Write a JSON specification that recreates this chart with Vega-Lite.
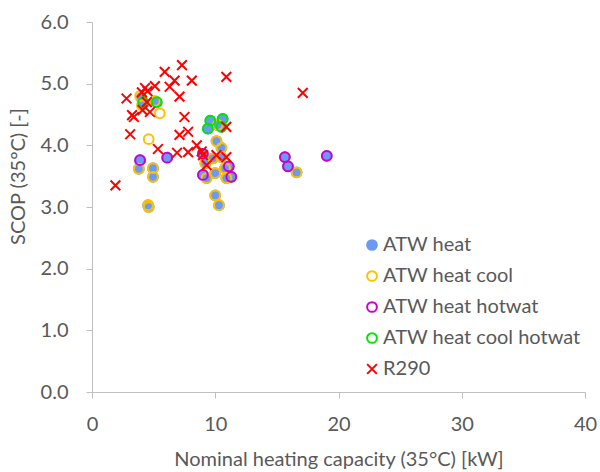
{
  "$schema": "https://vega.github.io/schema/vega-lite/v6.json",
  "width": 493,
  "height": 370,
  "autosize": "none",
  "padding": {"left": 92, "top": 22, "right": 15, "bottom": 80},
  "background": "white",
  "config": {
    "view": {"stroke": null},
    "font": "Lato",
    "axis": {
      "grid": false,
      "labelFlush": false,
      "domainColor": "#BFBFBF",
      "tickColor": "#BFBFBF",
      "tickSize": 6,
      "labelFontSize": 20,
      "labelColor": "#595959",
      "titleFontSize": 20,
      "titleFontWeight": "normal",
      "titleColor": "#595959"
    },
    "legend": {
      "orient": "none",
      "legendX": 270,
      "legendY": 213,
      "padding": 0,
      "labelFontSize": 20,
      "labelColor": "#595959",
      "labelLimit": 0,
      "labelOffset": 1,
      "rowPadding": 11,
      "symbolSize": 95,
      "symbolStrokeWidth": 2
    }
  },
  "data": {
    "values": [
      {"series": "ATW heat", "capacity": 4.0, "scop": 4.77},
      {"series": "ATW heat", "capacity": 4.2, "scop": 4.68},
      {"series": "ATW heat", "capacity": 5.25, "scop": 4.7},
      {"series": "ATW heat", "capacity": 3.9, "scop": 3.76},
      {"series": "ATW heat", "capacity": 3.8, "scop": 3.62},
      {"series": "ATW heat", "capacity": 4.95, "scop": 3.63},
      {"series": "ATW heat", "capacity": 4.95, "scop": 3.49},
      {"series": "ATW heat", "capacity": 4.55, "scop": 3.03},
      {"series": "ATW heat", "capacity": 4.6, "scop": 3.0},
      {"series": "ATW heat", "capacity": 6.1, "scop": 3.8},
      {"series": "ATW heat", "capacity": 9.4, "scop": 4.27},
      {"series": "ATW heat", "capacity": 9.6, "scop": 4.4},
      {"series": "ATW heat", "capacity": 10.2, "scop": 4.33},
      {"series": "ATW heat", "capacity": 10.6, "scop": 4.43},
      {"series": "ATW heat", "capacity": 10.5, "scop": 4.3},
      {"series": "ATW heat", "capacity": 10.1, "scop": 4.07},
      {"series": "ATW heat", "capacity": 10.5, "scop": 3.96},
      {"series": "ATW heat", "capacity": 9.0, "scop": 3.86},
      {"series": "ATW heat", "capacity": 9.2, "scop": 3.71},
      {"series": "ATW heat", "capacity": 9.8, "scop": 3.79},
      {"series": "ATW heat", "capacity": 10.5, "scop": 3.81},
      {"series": "ATW heat", "capacity": 9.0, "scop": 3.52},
      {"series": "ATW heat", "capacity": 9.3, "scop": 3.47},
      {"series": "ATW heat", "capacity": 10.0, "scop": 3.55},
      {"series": "ATW heat", "capacity": 10.8, "scop": 3.63},
      {"series": "ATW heat", "capacity": 11.1, "scop": 3.66},
      {"series": "ATW heat", "capacity": 10.9, "scop": 3.47},
      {"series": "ATW heat", "capacity": 11.3, "scop": 3.49},
      {"series": "ATW heat", "capacity": 10.0, "scop": 3.19},
      {"series": "ATW heat", "capacity": 10.3, "scop": 3.03},
      {"series": "ATW heat", "capacity": 15.65, "scop": 3.81},
      {"series": "ATW heat", "capacity": 15.9, "scop": 3.66},
      {"series": "ATW heat", "capacity": 16.6, "scop": 3.56},
      {"series": "ATW heat", "capacity": 19.05, "scop": 3.83},
      {"series": "ATW heat cool", "capacity": 3.9, "scop": 4.8},
      {"series": "ATW heat cool", "capacity": 4.05, "scop": 4.65},
      {"series": "ATW heat cool", "capacity": 5.1, "scop": 4.72},
      {"series": "ATW heat cool", "capacity": 5.5, "scop": 4.52},
      {"series": "ATW heat cool", "capacity": 4.6, "scop": 4.1},
      {"series": "ATW heat cool", "capacity": 3.8, "scop": 3.62},
      {"series": "ATW heat cool", "capacity": 4.95, "scop": 3.63},
      {"series": "ATW heat cool", "capacity": 4.95, "scop": 3.49},
      {"series": "ATW heat cool", "capacity": 4.55, "scop": 3.03},
      {"series": "ATW heat cool", "capacity": 4.6, "scop": 3.0},
      {"series": "ATW heat cool", "capacity": 10.1, "scop": 4.07},
      {"series": "ATW heat cool", "capacity": 10.5, "scop": 3.96},
      {"series": "ATW heat cool", "capacity": 10.2, "scop": 4.33},
      {"series": "ATW heat cool", "capacity": 9.2, "scop": 3.71},
      {"series": "ATW heat cool", "capacity": 9.8, "scop": 3.79},
      {"series": "ATW heat cool", "capacity": 10.5, "scop": 3.81},
      {"series": "ATW heat cool", "capacity": 9.3, "scop": 3.47},
      {"series": "ATW heat cool", "capacity": 10.0, "scop": 3.55},
      {"series": "ATW heat cool", "capacity": 10.8, "scop": 3.63},
      {"series": "ATW heat cool", "capacity": 10.9, "scop": 3.47},
      {"series": "ATW heat cool", "capacity": 10.0, "scop": 3.19},
      {"series": "ATW heat cool", "capacity": 10.3, "scop": 3.03},
      {"series": "ATW heat cool", "capacity": 16.6, "scop": 3.56},
      {"series": "ATW heat hotwat", "capacity": 3.9, "scop": 3.76},
      {"series": "ATW heat hotwat", "capacity": 6.1, "scop": 3.8},
      {"series": "ATW heat hotwat", "capacity": 9.0, "scop": 3.86},
      {"series": "ATW heat hotwat", "capacity": 9.0, "scop": 3.52},
      {"series": "ATW heat hotwat", "capacity": 11.1, "scop": 3.66},
      {"series": "ATW heat hotwat", "capacity": 11.3, "scop": 3.49},
      {"series": "ATW heat hotwat", "capacity": 15.65, "scop": 3.81},
      {"series": "ATW heat hotwat", "capacity": 15.9, "scop": 3.66},
      {"series": "ATW heat hotwat", "capacity": 19.05, "scop": 3.83},
      {"series": "ATW heat cool hotwat", "capacity": 4.15, "scop": 4.7},
      {"series": "ATW heat cool hotwat", "capacity": 5.25, "scop": 4.7},
      {"series": "ATW heat cool hotwat", "capacity": 9.4, "scop": 4.27},
      {"series": "ATW heat cool hotwat", "capacity": 9.6, "scop": 4.4},
      {"series": "ATW heat cool hotwat", "capacity": 10.6, "scop": 4.43},
      {"series": "ATW heat cool hotwat", "capacity": 10.5, "scop": 4.3},
      {"series": "R290", "capacity": 1.9, "scop": 3.35},
      {"series": "R290", "capacity": 2.8, "scop": 4.76},
      {"series": "R290", "capacity": 3.1, "scop": 4.18},
      {"series": "R290", "capacity": 3.25, "scop": 4.49},
      {"series": "R290", "capacity": 3.4, "scop": 4.46},
      {"series": "R290", "capacity": 4.05, "scop": 4.86},
      {"series": "R290", "capacity": 4.3, "scop": 4.93},
      {"series": "R290", "capacity": 4.5, "scop": 4.88},
      {"series": "R290", "capacity": 4.1, "scop": 4.57},
      {"series": "R290", "capacity": 4.45, "scop": 4.7},
      {"series": "R290", "capacity": 4.7, "scop": 4.54},
      {"series": "R290", "capacity": 5.1, "scop": 4.96},
      {"series": "R290", "capacity": 5.35, "scop": 3.94},
      {"series": "R290", "capacity": 5.9, "scop": 5.19},
      {"series": "R290", "capacity": 6.3, "scop": 4.95},
      {"series": "R290", "capacity": 6.7, "scop": 5.05},
      {"series": "R290", "capacity": 7.3, "scop": 5.3},
      {"series": "R290", "capacity": 7.1, "scop": 4.79},
      {"series": "R290", "capacity": 8.1, "scop": 5.05},
      {"series": "R290", "capacity": 10.9, "scop": 5.11},
      {"series": "R290", "capacity": 17.1, "scop": 4.85},
      {"series": "R290", "capacity": 7.5, "scop": 4.46},
      {"series": "R290", "capacity": 7.1, "scop": 4.17},
      {"series": "R290", "capacity": 7.8, "scop": 4.22},
      {"series": "R290", "capacity": 6.9, "scop": 3.88},
      {"series": "R290", "capacity": 7.8, "scop": 3.89},
      {"series": "R290", "capacity": 8.5, "scop": 4.0},
      {"series": "R290", "capacity": 8.9, "scop": 3.9},
      {"series": "R290", "capacity": 9.0, "scop": 3.84},
      {"series": "R290", "capacity": 9.3, "scop": 3.68},
      {"series": "R290", "capacity": 10.1, "scop": 3.84},
      {"series": "R290", "capacity": 10.9, "scop": 3.81},
      {"series": "R290", "capacity": 10.9, "scop": 4.3}
    ]
  },
  "mark": {"type": "point", "size": 95, "strokeWidth": 2, "opacity": 1},
  "encoding": {
    "x": {
      "field": "capacity",
      "type": "quantitative",
      "scale": {"domain": [0, 40], "nice": false},
      "axis": {
        "values": [0, 10, 20, 30, 40],
        "labelPadding": 16,
        "title": "Nominal heating capacity (35°C) [kW]",
        "titlePadding": 15
      }
    },
    "y": {
      "field": "scop",
      "type": "quantitative",
      "scale": {"domain": [0, 6], "nice": false},
      "axis": {
        "values": [0, 1, 2, 3, 4, 5, 6],
        "format": ".1f",
        "labelPadding": 18,
        "title": "SCOP (35°C) [-]",
        "titleY": 154,
        "titlePadding": 12
      }
    },
    "stroke": {
      "field": "series",
      "type": "nominal",
      "scale": {
        "domain": ["ATW heat", "ATW heat cool", "ATW heat hotwat", "ATW heat cool hotwat", "R290"],
        "range": ["#6A9BF4", "#FFC000", "#CC00CC", "#00E600", "#FF0000"]
      },
      "legend": {"title": null}
    },
    "fill": {
      "field": "series",
      "type": "nominal",
      "scale": {
        "domain": ["ATW heat", "ATW heat cool", "ATW heat hotwat", "ATW heat cool hotwat", "R290"],
        "range": ["#6A9BF4", "transparent", "transparent", "transparent", "transparent"]
      },
      "legend": {"title": null}
    },
    "shape": {
      "field": "series",
      "type": "nominal",
      "scale": {
        "domain": ["ATW heat", "ATW heat cool", "ATW heat hotwat", "ATW heat cool hotwat", "R290"],
        "range": ["circle", "circle", "circle", "circle", "M-1,-1L1,1M-1,1L1,-1"]
      },
      "legend": {"title": null}
    }
  }
}
